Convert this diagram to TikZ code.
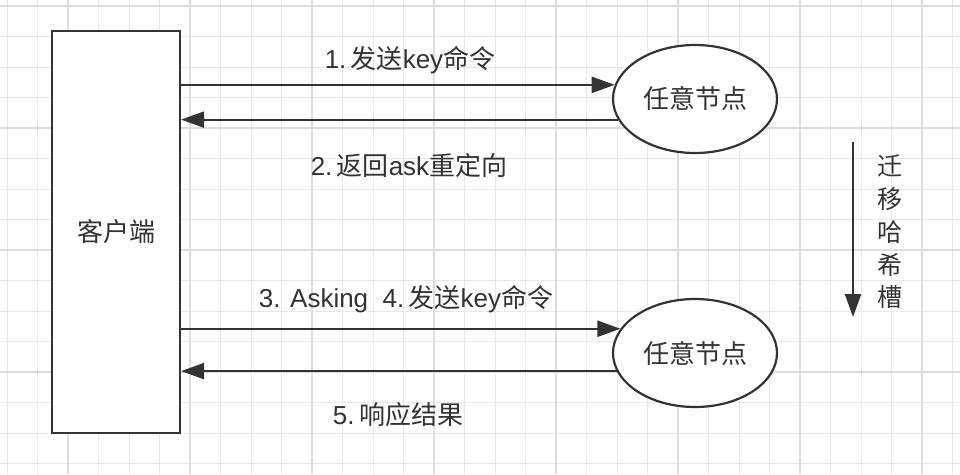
\documentclass[tikz,border=0pt]{standalone}
\usepackage{fontspec}
\setmainfont{Liberation Sans}
\newfontfamily\cjk{Noto Sans CJK SC}
\usetikzlibrary{arrows.meta,positioning,shapes.geometric}
\definecolor{ink}{HTML}{333333}
\definecolor{gridminor}{HTML}{E8E8E8}
\definecolor{gridmajor}{HTML}{DDDDDD}
\newcommand{\zh}[1]{{\cjk #1}}

\begin{document}
\begin{tikzpicture}[x=1pt, y=-1pt,
  font=\fontsize{26}{30}\selectfont,
  client/.style={draw=ink, line width=2.2pt, fill=white, minimum width=128pt, minimum height=402pt, inner sep=0pt, text=ink},
  anynode/.style={draw=ink, line width=2.2pt, fill=white, ellipse, minimum width=164pt, minimum height=108pt, inner sep=0pt, text=ink},
  msg/.style={-{Triangle[length=23pt,width=16pt]}, draw=ink, fill=ink, line width=2.2pt},
  msglabel/.style={text=ink, inner sep=0pt}
]
\useasboundingbox (0,0) rectangle (960,474);
\fill[white] (0,0) rectangle (960,474);
% grid
\foreach \i in {0,...,31}
  \draw[gridminor, line width=1pt] ({7+30.5*\i},0) -- ({7+30.5*\i},474);
\foreach \j in {0,...,15}
  \draw[gridminor, line width=1pt] (0,{6+30.5*\j}) -- (960,{6+30.5*\j});
\foreach \i in {0,...,7}
  \draw[gridmajor, line width=1.5pt] ({68+122*\i},0) -- ({68+122*\i},474);
\foreach \j in {0,...,3}
  \draw[gridmajor, line width=1.5pt] (0,{6+122*\j}) -- (960,{6+122*\j});

\node[client] (client) at (116,232) {\zh{客户端}};
\node[anynode] (n1) at (695,99) {\zh{任意节点}};
\node[anynode] (n2) at (695,353) {\zh{任意节点}};

\draw[msg] (client.east |- n1.170) -- (n1.170);
\draw[msg] (n1.195) -- (client.east |- n1.195);
\draw[msg] (client.east |- n2.162) -- (n2.162);
\draw[msg] (n2.193) -- (client.east |- n2.193);

\node[msglabel] (m1) at (410,60) {1.\,\zh{发送}key\zh{命令}};
\node[msglabel] (m2) at (409,166) {2.\,\zh{返回}ask\zh{重定向}};
\node[msglabel] (m3) at (406,299) {3. Asking\ \ 4.\,\zh{发送}key\zh{命令}};
\node[msglabel] (m5) at (398,415) {5.\,\zh{响应结果}};

% slot migration
\coordinate (mtop) at (853,142);
\coordinate (mbot) at (853,317);
\draw[msg] (mtop) -- (mbot);
\node[msglabel, align=center, font=\cjk\fontsize{25}{32.7}\selectfont] (mig) at (890,232) {迁\\移\\哈\\希\\槽};
\end{tikzpicture}
\end{document}
